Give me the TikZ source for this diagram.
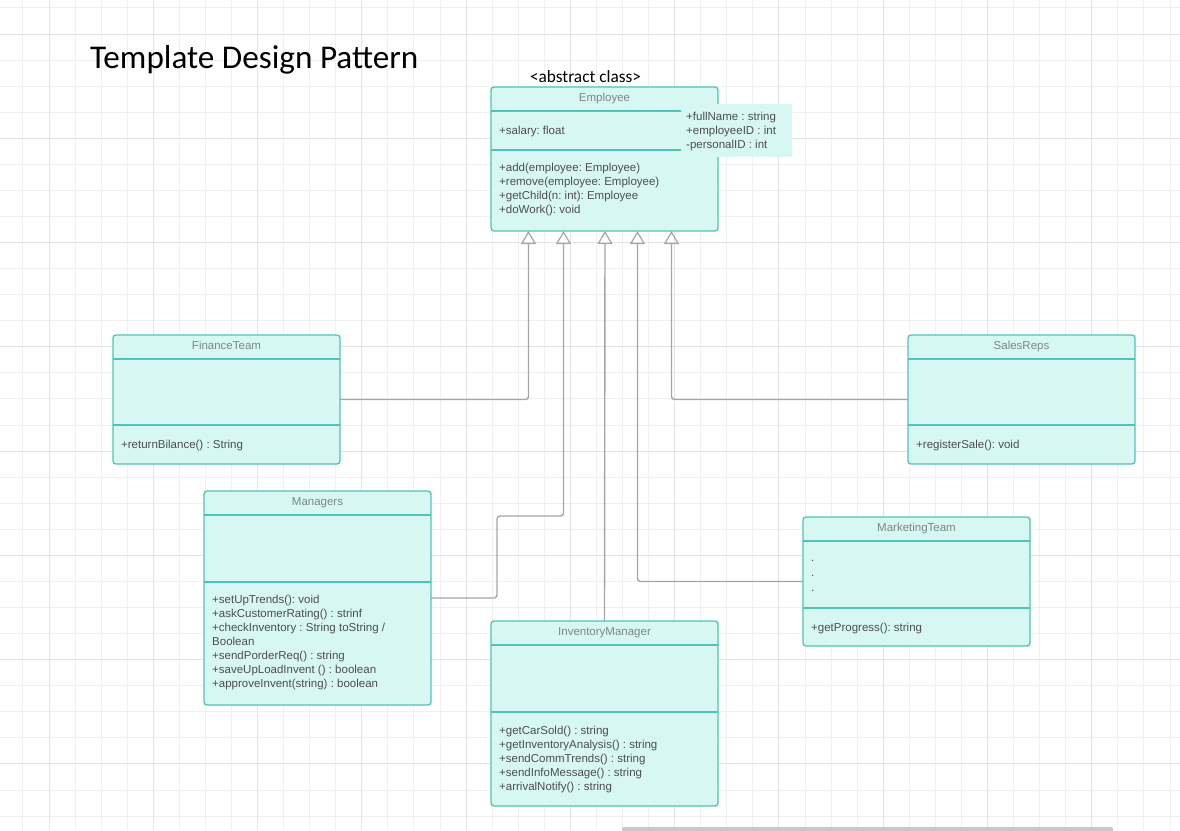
\documentclass[tikz,border=0pt]{standalone}
\usepackage{fontspec}
\setmainfont{Liberation Sans}
\newfontfamily\titlefont{Carlito}
\usepackage{xcolor}
\usetikzlibrary{arrows.meta}
\frenchspacing

\definecolor{umlborder}{RGB}{80,196,180}
\definecolor{umlfill}{RGB}{214,247,242}
\definecolor{umltitle}{RGB}{125,135,135}
\definecolor{umltext}{RGB}{78,78,78}
\definecolor{linkgray}{RGB}{165,165,165}
\definecolor{gridminor}{RGB}{240,240,240}
\definecolor{gridmajor}{RGB}{228,228,228}
\definecolor{scrollgray}{RGB}{200,200,204}

\tikzset{
  classbox/.style={draw=umlborder, fill=umlfill, line width=1.3, rounded corners=3, inner sep=0, outer sep=0, anchor=north west, minimum width=227},
  classline/.style={draw=umlborder, line width=1.3},
  classname/.style={font=\fontsize{11.5}{14}\selectfont, text=umltitle, inner sep=0, text height=8, text depth=2.5},
  member/.style={font=\fontsize{11.5}{14.1}\selectfont, text=umltext, align=left, inner sep=0, anchor=north west, execute at begin node=\strut},
  inherit/.style={draw=linkgray, line width=1.4, rounded corners=3, -{Triangle[open, width=15, length=13, line width=1.2]}},
}

\begin{document}
\begin{tikzpicture}[x=1pt, y=-1pt]

\useasboundingbox (0,0) rectangle (1180,830);

\foreach \k in {0,...,44} \draw[gridminor, line width=1] ({22.93+26.07*\k},0) -- ({22.93+26.07*\k},830);
\foreach \k in {0,...,31} \draw[gridminor, line width=1] (0,{7.93+26.07*\k}) -- (1180,{7.93+26.07*\k});
\foreach \k in {0,...,10} \draw[gridmajor, line width=1] ({49+104.28*\k},0) -- ({49+104.28*\k},830);
\foreach \k in {0,...,7} \draw[gridmajor, line width=1] (0,{34+104.28*\k}) -- (1180,{34+104.28*\k});

\fill[scrollgray, rounded corners=2] (622,827) rectangle (1113,834);

\node[font=\titlefont\fontsize{33.2}{36}\selectfont, anchor=base west, inner sep=0] (title) at (90,68.3) {Template Design Pattern};

\node[font=\titlefont\fontsize{17.3}{20}\selectfont, anchor=base, inner sep=0] (stereotype) at (585.5,82.7) {<abstract class>};

% Employee
\node[classbox, minimum height=144] (employee) at (491,87) {};
\draw[classline] ([yshift=-24]employee.north west) -- ([yshift=-24]employee.north east);
\draw[classline] ([yshift=-63]employee.north west) -- ([yshift=-63]employee.north east);
\node[classname] (employee-name) at ([yshift=-12]employee.north) {Employee};
\node[member] (employee-attr) at ([xshift=8, yshift=-37]employee.north west) {+salary: float};
\node[member] (employee-ops) at ([xshift=8, yshift=-76]employee.north west) {+add(employee: Employee)\\+remove(employee: Employee)\\+getChild(n: int): Employee\\+doWork(): void};

\node[fill=umlfill, inner sep=0, anchor=north west, minimum width=111, minimum height=53] (employee-extra) at (681,104) {};
\node[member] (employee-fields) at (686,111.5) {+fullName : string\\+employeeID : int\\-personalID : int};

% FinanceTeam
\node[classbox, minimum height=129] (finance) at (113,335) {};
\draw[classline] ([yshift=-24]finance.north west) -- ([yshift=-24]finance.north east);
\draw[classline] ([yshift=-90]finance.north west) -- ([yshift=-90]finance.north east);
\node[classname] (finance-name) at ([yshift=-12]finance.north) {FinanceTeam};
\node[member] (finance-ops) at ([xshift=8, yshift=-103.2]finance.north west) {+returnBilance() : String};

% SalesReps
\node[classbox, minimum height=129] (sales) at (908,335) {};
\draw[classline] ([yshift=-24]sales.north west) -- ([yshift=-24]sales.north east);
\draw[classline] ([yshift=-90]sales.north west) -- ([yshift=-90]sales.north east);
\node[classname] (sales-name) at ([yshift=-12]sales.north) {SalesReps};
\node[member] (sales-ops) at ([xshift=8, yshift=-103.2]sales.north west) {+registerSale(): void};

% Managers
\node[classbox, minimum height=214] (managers) at (204,491) {};
\draw[classline] ([yshift=-24]managers.north west) -- ([yshift=-24]managers.north east);
\draw[classline] ([yshift=-91]managers.north west) -- ([yshift=-91]managers.north east);
\node[classname] (managers-name) at ([yshift=-12]managers.north) {Managers};
\node[member] (managers-ops) at ([xshift=8, yshift=-103.5]managers.north west) {+setUpTrends(): void\\+askCustomerRating() : strinf\\+checkInventory : String toString /\\Boolean\\+sendPorderReq() : string\\+saveUpLoadInvent () : boolean\\+approveInvent(string) : boolean};

% MarketingTeam
\node[classbox, minimum height=129] (marketing) at (803,517) {};
\draw[classline] ([yshift=-24]marketing.north west) -- ([yshift=-24]marketing.north east);
\draw[classline] ([yshift=-91]marketing.north west) -- ([yshift=-91]marketing.north east);
\node[classname] (marketing-name) at ([yshift=-12]marketing.north) {MarketingTeam};
\node[member] (marketing-attr) at ([xshift=8, yshift=-43.5]marketing.north west) {.\\[0.6pt].\\[0.6pt].};
\node[member] (marketing-ops) at ([xshift=8, yshift=-104]marketing.north west) {+getProgress(): string};

% InventoryManager
\node[classbox, minimum height=185] (inventory) at (491,621) {};
\draw[classline] ([yshift=-24]inventory.north west) -- ([yshift=-24]inventory.north east);
\draw[classline] ([yshift=-91]inventory.north west) -- ([yshift=-91]inventory.north east);
\node[classname] (inventory-name) at ([yshift=-12]inventory.north) {InventoryManager};
\node[member] (inventory-ops) at ([xshift=8, yshift=-104.5]inventory.north west) {+getCarSold() : string\\+getInventoryAnalysis() : string\\+sendCommTrends() : string\\+sendInfoMessage() : string\\+arrivalNotify() : string};

% generalisations
\coordinate (in-finance) at ([xshift=-76]employee.south);
\coordinate (in-managers) at ([xshift=-41]employee.south);
\coordinate (in-inventory) at ([xshift=0.5]employee.south);
\coordinate (in-marketing) at ([xshift=33]employee.south);
\coordinate (in-sales) at ([xshift=67]employee.south);

\draw[inherit] (finance.east) -| (in-finance);

\draw[inherit] (managers.east) -- ++(66,0) |- ([yshift=-285]in-managers) -- (in-managers);

\draw[inherit] (inventory.north) -- (in-inventory);

\draw[inherit] (marketing.west) -| (in-marketing);

\draw[inherit] (sales.west) -| (in-sales);

\end{tikzpicture}
\end{document}
